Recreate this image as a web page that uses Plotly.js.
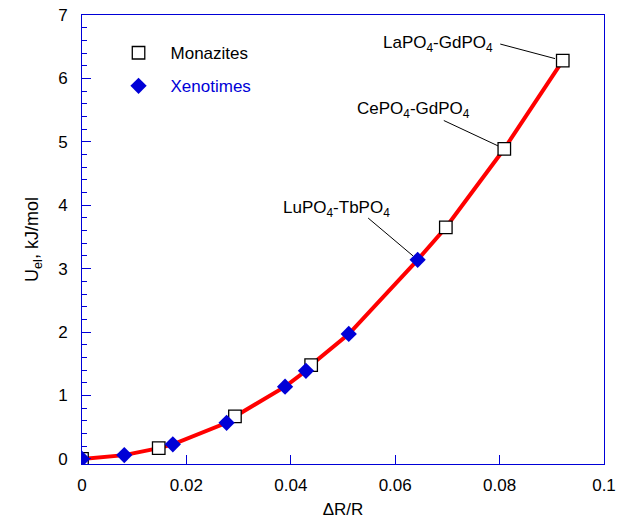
<!DOCTYPE html>
<html>
<head>
<meta charset="utf-8">
<script src="https://cdn.plot.ly/plotly-3.0.1.min.js"></script>
<style>html,body{margin:0;padding:0;background:#fff;}#chart{width:623px;height:519px;}</style>
</head>
<body>
<div id="chart"></div>
<script>
// Monazites (open squares)
var monX = [0, 0.0147, 0.0293, 0.0439, 0.0697, 0.0809, 0.0921];
var monY = [0, 0.17, 0.67, 1.48, 3.65, 4.89, 6.28];
// Xenotimes (filled diamonds)
var xenX = [0, 0.0081, 0.0174, 0.0277, 0.0389, 0.0429, 0.0511, 0.0643];
var xenY = [0, 0.06, 0.23, 0.57, 1.14, 1.39, 1.97, 3.14];
// labelled pairs
var labelText = ['LaPO<sub>4</sub>-GdPO<sub>4</sub>', 'CePO<sub>4</sub>-GdPO<sub>4</sub>', 'LuPO<sub>4</sub>-TbPO<sub>4</sub>'];
var labelX = [0.0921, 0.0809, 0.0643];
var labelY = [6.28, 4.89, 3.14];
var xTickVals = [0, 0.02, 0.04, 0.06, 0.08, 0.1];
var xTickText = ['0', '0.02', '0.04', '0.06', '0.08', '0.1'];
var yTickVals = [0, 1, 2, 3, 4, 5, 6, 7];

// combined curve sorted by x
var pts = [];
monX.forEach(function (x, i) { pts.push([x, monY[i]]); });
xenX.forEach(function (x, i) { pts.push([x, xenY[i]]); });
pts.sort(function (a, b) { return a[0] - b[0] || a[1] - b[1]; });
var lineX = pts.map(function (p) { return p[0]; });
var lineY = pts.map(function (p) { return p[1]; });

var BLUE = 'rgb(0,0,215)';
var FONT = 'Liberation Sans, Arial, Helvetica, sans-serif';

var traces = [
  {x: lineX, y: lineY, mode: 'lines', line: {color: 'rgb(255,0,0)', width: 4}, showlegend: false, hoverinfo: 'skip'},
  {x: monX, y: monY, mode: 'markers', name: 'Monazites', legendgroup: 'm',
   marker: {symbol: 'square', size: 12.5, color: 'white', line: {color: 'black', width: 1.3}}},
  {x: xenX, y: xenY, mode: 'markers', name: '<span style="color:rgb(0,0,215)">Xenotimes</span>', legendgroup: 'x',
   marker: {symbol: 'diamond', size: 12.5, color: BLUE, line: {width: 0}}}
];

// arrow tail offsets (px) and text positions (px offset of text center from point)
var arrowAx = [-64, -62, -51];
var arrowAy = [-17, -29, -43];
var standoff = [8, 7, 6];
var textDx = [-125, -91, -81];
var textDy = [-17, -39, -51];

var annotations = [];
for (var i = 0; i < labelText.length; i++) {
  annotations.push({x: labelX[i], y: labelY[i], xref: 'x', yref: 'y', text: ' ', showarrow: true,
    arrowhead: 0, arrowwidth: 1, arrowcolor: 'black', ax: arrowAx[i], ay: arrowAy[i], standoff: standoff[i],
    font: {size: 1}});
  annotations.push({x: labelX[i], y: labelY[i], xref: 'x', yref: 'y', text: labelText[i], showarrow: false,
    xshift: textDx[i], yshift: -textDy[i], font: {family: FONT, size: 17, color: 'black'}});
}

var layout = {
  width: 623, height: 519,
  margin: {l: 82, r: 19, t: 15, b: 55},
  paper_bgcolor: 'white', plot_bgcolor: 'white',
  font: {family: FONT, size: 17, color: 'black'},
  showlegend: true,
  legend: {x: 0.047, y: 0.955, xanchor: 'left', yanchor: 'top', bgcolor: 'rgba(0,0,0,0)',
    font: {family: FONT, size: 17, color: 'black'}, itemwidth: 54, tracegroupgap: 8, traceorder: 'grouped'},
  xaxis: {range: [0, 0.1], tickvals: xTickVals, ticktext: xTickText, showgrid: false, zeroline: false,
    showline: true, linecolor: BLUE, linewidth: 1, mirror: true,
    ticks: 'inside', ticklen: 9, tickcolor: BLUE, tickwidth: 1, ticklabelstandoff: 6,
    title: {text: '\u0394R/R', font: {family: FONT, size: 17}, standoff: 8}},
  yaxis: {range: [-0.08, 7], tickvals: yTickVals, showgrid: false, zeroline: false,
    showline: true, linecolor: BLUE, linewidth: 1, mirror: true,
    ticks: 'inside', ticklen: 9, tickcolor: BLUE, tickwidth: 1, ticklabelstandoff: 10,
    minor: {dtick: 0.2, ticks: 'inside', ticklen: 5, tickcolor: BLUE, tickwidth: 1, showgrid: false},
    title: {text: 'U<sub>el</sub>, kJ/mol', font: {family: FONT, size: 18}, standoff: 14}},
  annotations: annotations
};

Plotly.newPlot('chart', traces, layout, {displayModeBar: false, staticPlot: true});
</script>
</body>
</html>
